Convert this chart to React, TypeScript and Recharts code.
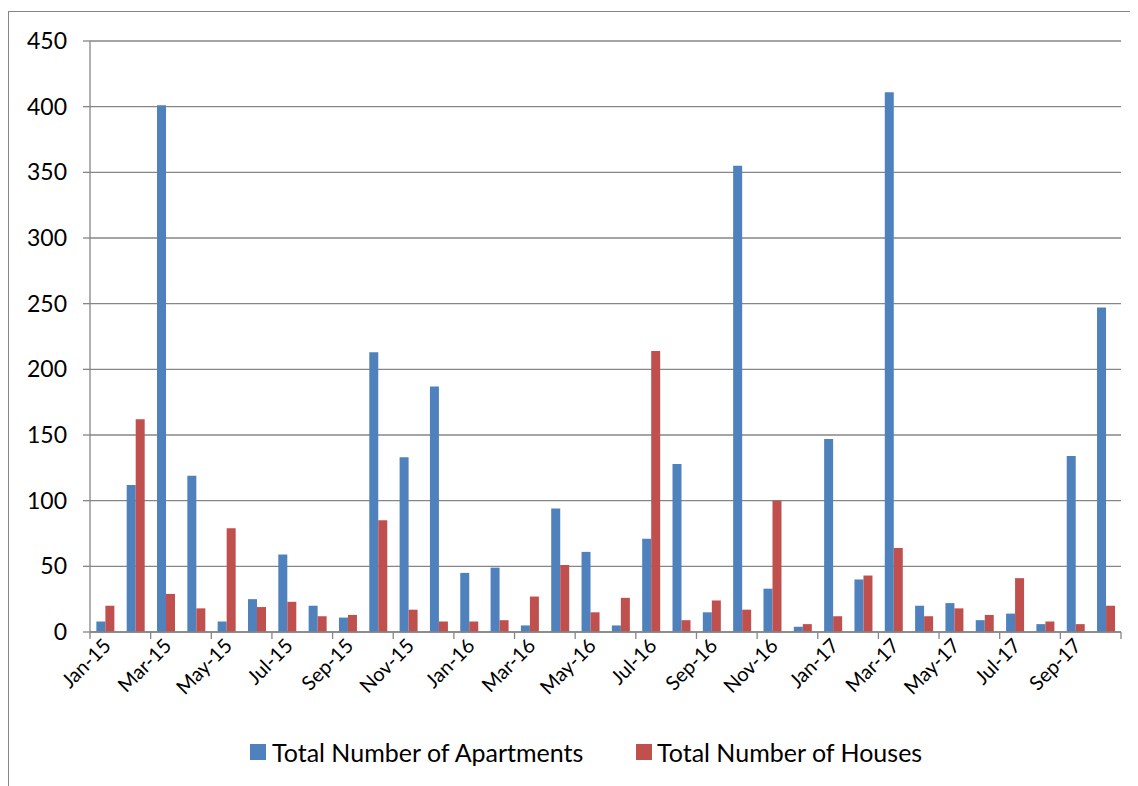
import React from "react";
import { BarChart, Bar, XAxis, YAxis, CartesianGrid, Legend } from "recharts";

const months = [
  "Jan-15", "Feb-15", "Mar-15", "Apr-15", "May-15", "Jun-15", "Jul-15", "Aug-15", "Sep-15", "Oct-15", "Nov-15", "Dec-15",
  "Jan-16", "Feb-16", "Mar-16", "Apr-16", "May-16", "Jun-16", "Jul-16", "Aug-16", "Sep-16", "Oct-16", "Nov-16", "Dec-16",
  "Jan-17", "Feb-17", "Mar-17", "Apr-17", "May-17", "Jun-17", "Jul-17", "Aug-17", "Sep-17", "Oct-17",
];
const apartments = [
  8, 112, 401, 119, 8, 25, 59, 20, 11, 213, 133, 187,
  45, 49, 5, 94, 61, 5, 71, 128, 15, 355, 33, 4,
  147, 40, 411, 20, 22, 9, 14, 6, 134, 247,
];
const houses = [
  20, 162, 29, 18, 79, 19, 23, 12, 13, 85, 17, 8,
  8, 9, 27, 51, 15, 26, 214, 9, 24, 17, 100, 6,
  12, 43, 64, 12, 18, 13, 41, 8, 6, 20,
];
const yTicks = [0, 50, 100, 150, 200, 250, 300, 350, 400, 450];
const seriesNames = ["Total Number of Apartments", "Total Number of Houses"];

const data = months.map((m, i) => ({ month: m, apartments: apartments[i], houses: houses[i] }));

const CHART_W = 1130;
const CHART_H = 778;
const MARGIN = { top: 33, right: 17, left: 0, bottom: 0 };
const YAXIS_W = 82;
const BAND = (CHART_W - MARGIN.left - MARGIN.right - YAXIS_W) / months.length;
const AXIS_COLOR = "#868686";
const FONT = "Lato, 'Open Sans', sans-serif";
const BLUE = "#4F81BD";
const RED = "#C0504D";

const XTick = (props: any) => {
  const { x, y, payload } = props;
  const left = x - BAND / 2;
  const isLast = payload.value === months[months.length - 2];
  return (
    <g>
      <line x1={left} x2={left} y1={y} y2={y + 7} stroke={AXIS_COLOR} strokeWidth={1.3} />
      {isLast && (
        <line x1={left + 2 * BAND} x2={left + 2 * BAND} y1={y} y2={y + 7} stroke={AXIS_COLOR} strokeWidth={1.3} />
      )}
      <text
        x={x + 7}
        y={y + 15}
        transform={`rotate(-45, ${x + 7}, ${y + 15})`}
        textAnchor="end"
        fontSize={20}
        fontFamily={FONT}
        fill="#000"
      >
        {payload.value}
      </text>
    </g>
  );
};

const renderLegend = () => (
  <div style={{ height: 54, position: "relative", fontFamily: FONT, fontSize: 25, color: "#000" }}>
    <div style={{ position: "absolute", left: 242, top: 12, width: 16, height: 16, background: BLUE }} />
    <div style={{ position: "absolute", left: 264, top: 5, lineHeight: "30px", whiteSpace: "nowrap" }}>{seriesNames[0]}</div>
    <div style={{ position: "absolute", left: 628, top: 12, width: 16, height: 16, background: RED }} />
    <div style={{ position: "absolute", left: 649, top: 5, lineHeight: "30px", whiteSpace: "nowrap" }}>{seriesNames[1]}</div>
  </div>
);

export default function App() {
  return (
    <div style={{ position: "relative", width: CHART_W, height: CHART_H, fontFamily: FONT }}>
      <div
        style={{
          position: "absolute",
          left: 0,
          top: 3,
          width: CHART_W + 20,
          height: CHART_H,
          borderTop: `1px solid ${AXIS_COLOR}`,
          borderLeft: `1px solid ${AXIS_COLOR}`,
        }}
      />
      <div style={{ position: "absolute", left: 0, top: 0 }}>
        <BarChart width={CHART_W} height={CHART_H} data={data} margin={MARGIN} barCategoryGap="21%" barGap={0}>
          <CartesianGrid vertical={false} stroke={AXIS_COLOR} strokeWidth={1.3} />
          <XAxis
            dataKey="month"
            interval={1}
            tickLine={false}
            tickSize={0}
            tickMargin={0}
            height={100}
            axisLine={{ stroke: AXIS_COLOR, strokeWidth: 1.3 }}
            tick={<XTick />}
          />
          <YAxis
            width={YAXIS_W}
            domain={[0, 450]}
            ticks={yTicks}
            interval={0}
            tickSize={7}
            tickMargin={16}
            tickLine={{ stroke: AXIS_COLOR, strokeWidth: 1.3 }}
            axisLine={{ stroke: AXIS_COLOR, strokeWidth: 1.3 }}
            tick={{ fontSize: 23, fill: "#000", fontFamily: FONT }}
          />
          <Legend verticalAlign="bottom" height={54} content={renderLegend} />
          <Bar dataKey="apartments" name={seriesNames[0]} fill={BLUE} isAnimationActive={false} />
          <Bar dataKey="houses" name={seriesNames[1]} fill={RED} isAnimationActive={false} />
        </BarChart>
      </div>
    </div>
  );
}
